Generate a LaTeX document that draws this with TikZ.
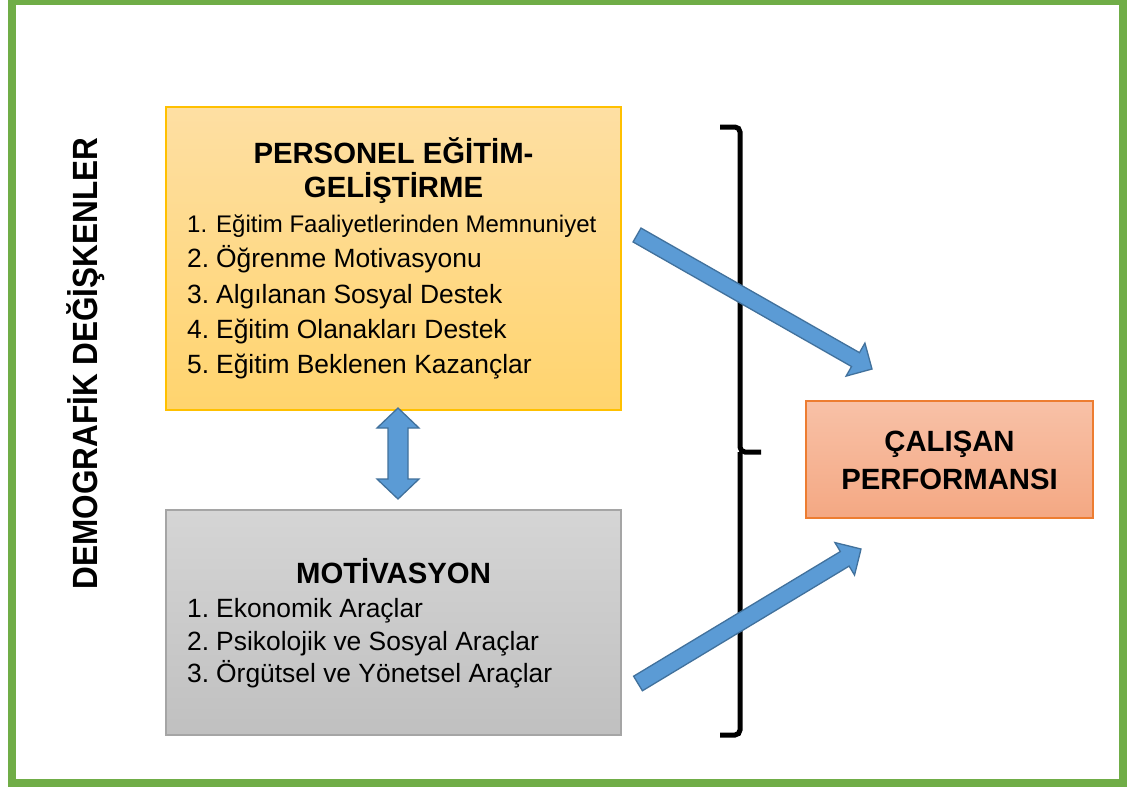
\documentclass[tikz,border=0pt]{standalone}
\usepackage{fontspec}
\setmainfont{Liberation Sans}
\usetikzlibrary{calc}

\definecolor{framegreen}{RGB}{112,173,71}
\definecolor{ytop}{RGB}{254,223,163}
\definecolor{ybot}{RGB}{255,212,110}
\definecolor{yline}{RGB}{255,192,0}
\definecolor{gtop}{RGB}{213,213,213}
\definecolor{gbot}{RGB}{192,192,192}
\definecolor{gline}{RGB}{165,165,165}
\definecolor{otop}{RGB}{248,193,167}
\definecolor{obot}{RGB}{244,168,131}
\definecolor{oline}{RGB}{237,125,49}
\definecolor{bfill}{RGB}{91,155,213}
\definecolor{bline}{RGB}{65,113,156}

% single block arrow: #1 tail, #2 tip, #3 half shaft, #4 half head, #5 head length
\newcommand\blockarrow[5]{%
  \coordinate (#2-base) at ($(#2)!#5pt!(#1)$);
  \draw[bluearrow]
    ($(#1)!#3pt!90:(#2)$) -- ($(#2-base)!#3pt!90:(#2)$) --
    ($(#2-base)!#4pt!90:(#2)$) -- (#2) --
    ($(#2-base)!#4pt!-90:(#2)$) -- ($(#2-base)!#3pt!-90:(#2)$) --
    ($(#1)!#3pt!-90:(#2)$) -- cycle;}

% double block arrow between two tips
\newcommand\dblblockarrow[5]{%
  \coordinate (#1-base) at ($(#1)!#5pt!(#2)$);
  \coordinate (#2-base) at ($(#2)!#5pt!(#1)$);
  \draw[bluearrow]
    (#1) -- ($(#1-base)!#4pt!90:(#2)$) -- ($(#1-base)!#3pt!90:(#2)$) --
    ($(#2-base)!#3pt!-90:(#1)$) -- ($(#2-base)!#4pt!-90:(#1)$) -- (#2) --
    ($(#2-base)!#4pt!90:(#1)$) -- ($(#2-base)!#3pt!90:(#1)$) --
    ($(#1-base)!#3pt!-90:(#2)$) -- ($(#1-base)!#4pt!-90:(#2)$) -- cycle;}

\tikzset{
  box/.style={rectangle, inner sep=0pt, line width=1.1pt},
  ybox/.style={box, draw=yline, top color=ytop, bottom color=ybot},
  gbox/.style={box, draw=gline, top color=gtop, bottom color=gbot},
  obox/.style={box, draw=oline, top color=otop, bottom color=obot},
  bluearrow/.style={fill=bfill, draw=bline, line width=1.3pt, line join=miter},
  heading/.style={inner sep=0pt, anchor=base, font=\fontsize{29.3}{33}\selectfont\bfseries},
  item/.style={inner sep=0pt, anchor=base west, font=\fontsize{26.4}{30}\selectfont},
  smallitem/.style={item, font=\fontsize{24}{28}\selectfont},
  bracket/.style={draw=black, line width=5pt, rounded corners=5pt}
}

\begin{document}
\begin{tikzpicture}[x=1pt,y=-1pt]
  \useasboundingbox (0,0) rectangle (1127,787);
  \fill[white] (0,0) rectangle (1127,787);

  % outer frame
  \draw[framegreen, line width=8pt] (12,1) rectangle (1123,783);

  % side label
  \node[inner sep=0pt, rotate=90, anchor=base,
        font=\fontsize{35}{40}\selectfont\bfseries] (demo) at (97,363.5)
        {\scalebox{0.9}[1]{DEMOGRAFİK DEĞİŞKENLER}};

  % training block
  \node[ybox, minimum width=455pt, minimum height=303pt] (pe) at (393.5,258.5) {};
  \node[heading] (pe-t1) at (393.5,163) {PERSONEL EĞİTİM-};
  \node[heading] (pe-t2) at (393.5,197) {GELİŞTİRME};
  \node[smallitem] (pe-n1) at (187,232) {1.};
  \node[smallitem] (pe-1) at (216,232) {Eğitim Faaliyetlerinden Memnuniyet};
  \node[item] (pe-n2) at (187,267) {2.};
  \node[item] (pe-2) at (216,267) {Öğrenme Motivasyonu};
  \node[item] (pe-n3) at (187,303) {3.};
  \node[item] (pe-3) at (216,303) {Algılanan Sosyal Destek};
  \node[item] (pe-n4) at (187,338) {4.};
  \node[item] (pe-4) at (216,338) {Eğitim Olanakları Destek};
  \node[item] (pe-n5) at (187,373) {5.};
  \node[item] (pe-5) at (216,373) {Eğitim Beklenen Kazançlar};

  % motivation block
  \node[gbox, minimum width=455pt, minimum height=225pt] (mo) at (393.5,622.5) {};
  \node[heading] (mo-t) at (393.5,583) {MOTİVASYON};
  \node[item] (mo-n1) at (187,617) {1.};
  \node[item] (mo-1) at (216,617) {Ekonomik Araçlar};
  \node[item] (mo-n2) at (187,650) {2.};
  \node[item] (mo-2) at (216,650) {Psikolojik ve Sosyal Araçlar};
  \node[item] (mo-n3) at (187,682) {3.};
  \node[item] (mo-3) at (216,682) {Örgütsel ve Yönetsel Araçlar};

  % performance block
  \node[obox, minimum width=287pt, minimum height=117pt] (cp) at (949.5,459.5) {};
  \node[heading] (cp-t1) at (949.5,451) {ÇALIŞAN};
  \node[heading] (cp-t2) at (949.5,489) {PERFORMANSI};

  % right bracket grouping both blocks
  \coordinate (br-top) at (720,127);
  \coordinate (br-mid) at (740,452);
  \coordinate (br-tip) at (761,452);
  \coordinate (br-bot) at (720,735);
  \draw[bracket] (br-top) -| (br-mid) -- (br-tip);
  \draw[bracket] (br-mid) |- (br-bot);

  % arrows
  \coordinate (da-top) at (398,408);
  \coordinate (da-bot) at (398,499);
  \dblblockarrow{da-top}{da-bot}{10}{21}{20}

  \coordinate (a1-tail) at (637,235);
  \coordinate (a1-tip) at (872,369);
  \blockarrow{a1-tail}{a1-tip}{8}{19}{19}

  \coordinate (a2-tail) at (638,683.5);
  \coordinate (a2-tip) at (861,549);
  \blockarrow{a2-tail}{a2-tip}{8.5}{19}{19}
\end{tikzpicture}
\end{document}
